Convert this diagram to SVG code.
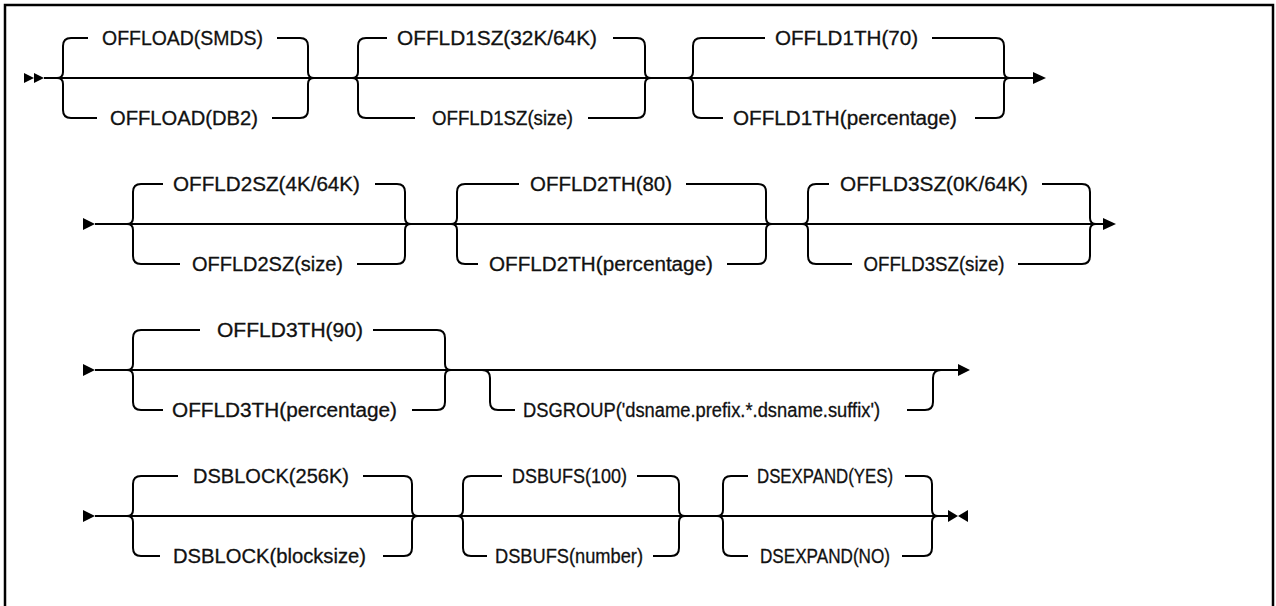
<svg xmlns="http://www.w3.org/2000/svg" width="1276" height="606" viewBox="0 0 1276 606">
<style>
.ln{fill:none;stroke:#000;stroke-width:2}
.bd{fill:none;stroke:#000;stroke-width:2.5}
.ah{fill:#000;stroke:none}
text{font-family:"Liberation Sans",Arial,sans-serif;font-size:20px;fill:#111;stroke:#111;stroke-width:0.3;text-anchor:middle}
</style>
<rect x="0" y="0" width="1276" height="606" fill="#fff"/>
<path class="bd" d="M5,606 V5 H1273 V606"/>
<g id="connectors">
<path class="ln" d="M44,78 H1034"/>
<polygon class="ah" points="24,73 34,78 24,83"/>
<polygon class="ah" points="34,73 44,78 34,83"/>
<polygon class="ah" points="1033,72 1046,78 1033,84"/>
<path class="ln" d="M95,224 H1104"/>
<polygon class="ah" points="83,218 95,224 83,230"/>
<polygon class="ah" points="1103,218 1116,224 1103,230"/>
<path class="ln" d="M95,370 H959"/>
<polygon class="ah" points="83,364 95,370 83,376"/>
<polygon class="ah" points="958,364 970,370 958,376"/>
<path class="ln" d="M95,516 H949"/>
<polygon class="ah" points="83,510 95,516 83,522"/>
<polygon class="ah" points="948,510 958,516 948,522"/>
<polygon class="ah" points="968,510 958,516 968,522"/>
</g>
<g id="offload">
<path class="ln" d="M57,78 Q63,78 63,72 V46 Q63,38 71,38 H88 M277,38 H300 Q308,38 308,46 V72 Q308,78 314,78"/>
<path class="ln" d="M57,78 Q63,78 63,84 V110 Q63,118 71,118 H97 M272,118 H300 Q308,118 308,110 V84 Q308,78 314,78"/>
<text x="182.5" y="45" textLength="161" lengthAdjust="spacingAndGlyphs">OFFLOAD(SMDS)</text>
<text x="184" y="125" textLength="148" lengthAdjust="spacingAndGlyphs">OFFLOAD(DB2)</text>
</g>
<g id="offld1sz">
<path class="ln" d="M352,78 Q358,78 358,72 V46 Q358,38 366,38 H387 M613,38 H637 Q645,38 645,46 V72 Q645,78 651,78"/>
<path class="ln" d="M352,78 Q358,78 358,84 V110 Q358,118 366,118 H415 M588,118 H637 Q645,118 645,110 V84 Q645,78 651,78"/>
<text x="497" y="45" textLength="200" lengthAdjust="spacingAndGlyphs">OFFLD1SZ(32K/64K)</text>
<text x="502.5" y="125" textLength="141" lengthAdjust="spacingAndGlyphs">OFFLD1SZ(size)</text>
</g>
<g id="offld1th">
<path class="ln" d="M687,78 Q693,78 693,72 V46 Q693,38 701,38 H765 M932,38 H996 Q1004,38 1004,46 V72 Q1004,78 1010,78"/>
<path class="ln" d="M687,78 Q693,78 693,84 V110 Q693,118 701,118 H723 M975,118 H996 Q1004,118 1004,110 V84 Q1004,78 1010,78"/>
<text x="846.5" y="45" textLength="143" lengthAdjust="spacingAndGlyphs">OFFLD1TH(70)</text>
<text x="845" y="125" textLength="224" lengthAdjust="spacingAndGlyphs">OFFLD1TH(percentage)</text>
</g>
<g id="offld2sz">
<path class="ln" d="M127,224 Q133,224 133,218 V192 Q133,184 141,184 H163 M375,184 H397 Q405,184 405,192 V218 Q405,224 411,224"/>
<path class="ln" d="M127,224 Q133,224 133,230 V256 Q133,264 141,264 H180 M357,264 H397 Q405,264 405,256 V230 Q405,224 411,224"/>
<text x="266.5" y="191" textLength="187" lengthAdjust="spacingAndGlyphs">OFFLD2SZ(4K/64K)</text>
<text x="267.5" y="271" textLength="151" lengthAdjust="spacingAndGlyphs">OFFLD2SZ(size)</text>
</g>
<g id="offld2th">
<path class="ln" d="M451,224 Q457,224 457,218 V192 Q457,184 465,184 H519 M686,184 H758 Q766,184 766,192 V218 Q766,224 772,224"/>
<path class="ln" d="M451,224 Q457,224 457,230 V256 Q457,264 465,264 H478 M727,264 H758 Q766,264 766,256 V230 Q766,224 772,224"/>
<text x="601" y="191" textLength="142" lengthAdjust="spacingAndGlyphs">OFFLD2TH(80)</text>
<text x="601" y="271" textLength="224" lengthAdjust="spacingAndGlyphs">OFFLD2TH(percentage)</text>
</g>
<g id="offld3sz">
<path class="ln" d="M802,224 Q808,224 808,218 V192 Q808,184 816,184 H829 M1042,184 H1082 Q1090,184 1090,192 V218 Q1090,224 1096,224"/>
<path class="ln" d="M802,224 Q808,224 808,230 V256 Q808,264 816,264 H852 M1018,264 H1082 Q1090,264 1090,256 V230 Q1090,224 1096,224"/>
<text x="934" y="191" textLength="188" lengthAdjust="spacingAndGlyphs">OFFLD3SZ(0K/64K)</text>
<text x="934" y="271" textLength="141" lengthAdjust="spacingAndGlyphs">OFFLD3SZ(size)</text>
</g>
<g id="offld3th">
<path class="ln" d="M127,370 Q133,370 133,364 V338 Q133,330 141,330 H200 M373,330 H437 Q445,330 445,338 V364 Q445,370 451,370"/>
<path class="ln" d="M127,370 Q133,370 133,376 V402 Q133,410 141,410 H163 M412,410 H437 Q445,410 445,402 V376 Q445,370 451,370"/>
<text x="290" y="337" textLength="146" lengthAdjust="spacingAndGlyphs">OFFLD3TH(90)</text>
<text x="284.5" y="417" textLength="225" lengthAdjust="spacingAndGlyphs">OFFLD3TH(percentage)</text>
</g>
<g id="dsgroup">
<path class="ln" d="M482,370 Q490,370 490,378 V402 Q490,410 498,410 H515 M907,410 H925 Q933,410 933,402 V378 Q933,370 941,370"/>
<text x="701.5" y="417" textLength="357" lengthAdjust="spacingAndGlyphs">DSGROUP('dsname.prefix.*.dsname.suffix')</text>
</g>
<g id="dsblock">
<path class="ln" d="M127,516 Q133,516 133,510 V484 Q133,476 141,476 H178 M363,476 H404 Q412,476 412,484 V510 Q412,516 418,516"/>
<path class="ln" d="M127,516 Q133,516 133,522 V548 Q133,556 141,556 H160 M383,556 H404 Q412,556 412,548 V522 Q412,516 418,516"/>
<text x="271" y="483" textLength="156" lengthAdjust="spacingAndGlyphs">DSBLOCK(256K)</text>
<text x="269.5" y="563" textLength="193" lengthAdjust="spacingAndGlyphs">DSBLOCK(blocksize)</text>
</g>
<g id="dsbufs">
<path class="ln" d="M457,516 Q463,516 463,510 V484 Q463,476 471,476 H502 M637,476 H671 Q679,476 679,484 V510 Q679,516 685,516"/>
<path class="ln" d="M457,516 Q463,516 463,522 V548 Q463,556 471,556 H487 M653,556 H671 Q679,556 679,548 V522 Q679,516 685,516"/>
<text x="569.5" y="483" textLength="115" lengthAdjust="spacingAndGlyphs">DSBUFS(100)</text>
<text x="569" y="563" textLength="148" lengthAdjust="spacingAndGlyphs">DSBUFS(number)</text>
</g>
<g id="dsexpand">
<path class="ln" d="M717,516 Q723,516 723,510 V484 Q723,476 731,476 H748 M905,476 H924 Q932,476 932,484 V510 Q932,516 938,516"/>
<path class="ln" d="M717,516 Q723,516 723,522 V548 Q723,556 731,556 H748 M902,556 H924 Q932,556 932,548 V522 Q932,516 938,516"/>
<text x="825" y="483" textLength="136" lengthAdjust="spacingAndGlyphs">DSEXPAND(YES)</text>
<text x="825" y="563" textLength="130" lengthAdjust="spacingAndGlyphs">DSEXPAND(NO)</text>
</g>
</svg>
